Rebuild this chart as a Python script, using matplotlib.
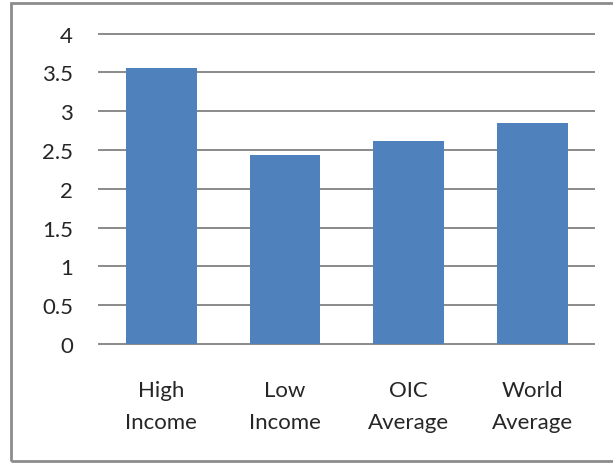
import matplotlib.pyplot as plt
from matplotlib.patches import Rectangle

categories = ["High\nIncome", "Low\nIncome", "OIC\nAverage", "World\nAverage"]
values = [3.56, 2.44, 2.62, 2.85]
y_ticks = [0, 0.5, 1, 1.5, 2, 2.5, 3, 3.5, 4]
y_labels = ["0", "0.5", "1", "1.5", "2", "2.5", "3", "3.5", "4"]

plt.rcParams["font.family"] = ["Lato", "DejaVu Sans"]

fig = plt.figure(figsize=(6.13, 4.64), dpi=100)
ax = fig.add_axes([0.1623, 0.2565, 0.8072, 0.6687])

x = range(len(categories))
ax.bar(x, values, width=0.57, color="#4F81BD", zorder=2)

ax.set_xlim(-0.5, 3.5)
ax.set_ylim(0, 4)
ax.set_yticks(y_ticks)
ax.set_yticklabels(y_labels, fontsize=16, color="#262626")
ax.set_xticks(list(x))
ax.set_xticklabels(categories, fontsize=16, color="#262626", linespacing=1.75)
ax.tick_params(axis="y", length=0, pad=19)
ax.tick_params(axis="x", length=0, pad=26)

for t in y_ticks:
    ax.axhline(t, color="#8a8a8a", lw=1.4, zorder=1, clip_on=False)

for s in ax.spines.values():
    s.set_visible(False)

# outer chart border
fig.patches.append(Rectangle((11 / 613, 2 / 464), 1.0, 458 / 464,
                             transform=fig.transFigure, fill=False,
                             edgecolor="#8c8c8c", lw=2))

fig.savefig("out.png", dpi=100)
